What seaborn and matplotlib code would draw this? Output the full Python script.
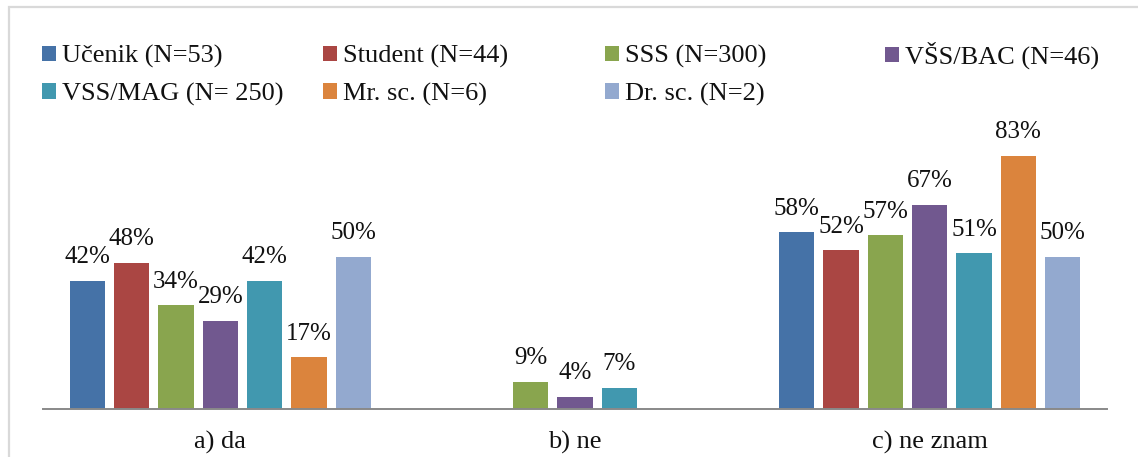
import matplotlib
matplotlib.use("Agg")
import matplotlib.pyplot as plt
from matplotlib.patches import Patch, Rectangle
import seaborn as sns
import pandas as pd

# Survey answers by education level (percent of respondents)
categories = ["a) da", "b) ne", "c) ne znam"]
groups = ["Učenik (N=53)", "Student (N=44)", "SSS (N=300)", "VŠS/BAC (N=46)",
          "VSS/MAG (N= 250)", "Mr. sc. (N=6)", "Dr. sc. (N=2)"]
ucenik = [42, 0, 58]
student = [48, 0, 52]
sss = [34, 9, 57]
vss_bac = [29, 4, 67]
vss_mag = [42, 7, 51]
mr_sc = [17, 0, 83]
dr_sc = [50, 0, 50]
series = [ucenik, student, sss, vss_bac, vss_mag, mr_sc, dr_sc]

colors = ["#4572A7", "#AA4643", "#89A54E", "#71588F", "#4198AF", "#DB843D", "#93A9CF"]

rows = []
for g, vals in zip(groups, series):
    for c, v in zip(categories, vals):
        rows.append({"kategorija": c, "skupina": g, "postotak": v})
df = pd.DataFrame(rows)

sns.set_theme(style="white")
plt.rcParams["font.family"] = ["Liberation Serif", "DejaVu Serif"]

W, H = 1138, 457
fig = plt.figure(figsize=(W / 100, H / 100), dpi=100)
ax = fig.add_axes([43 / W, 48 / H, 1064 / W, 305 / H])

sns.barplot(data=df, x="kategorija", y="postotak", hue="skupina",
            hue_order=groups, order=categories, palette=colors, saturation=1,
            width=0.875, gap=0.21, linewidth=0, legend=False, ax=ax)

for cont, vals in zip(ax.containers, series):
    ax.bar_label(cont, labels=["" if v == 0 else f"{v}%" for v in vals],
                 padding=9, fontsize=18, color="#111111")

ax.set_xlim(-0.5, len(categories) - 0.5)
ax.set_ylim(0, 100)
ax.set_xlabel("")
ax.set_ylabel("")
ax.set_yticks([])
for side in ["top", "right", "left"]:
    ax.spines[side].set_visible(False)
ax.spines["bottom"].set_color("#898989")
ax.spines["bottom"].set_linewidth(1.4)
ax.tick_params(axis="x", length=0, pad=15.5, labelsize=19, labelcolor="#111111")

# Legend: four equally spaced columns
col_x = [42, 323, 605, 885]
col_top = [45, 45, 45, 42]
col_idx = [[0, 4], [1, 5], [2, 6], [3]]
for x, top, idxs in zip(col_x, col_top, col_idx):
    handles = [Patch(facecolor=colors[i], edgecolor="none", label=groups[i]) for i in idxs]
    fig.legend(handles=handles, loc="upper left", bbox_to_anchor=(x / W, 1 - top / H),
               frameon=False, fontsize=19, borderpad=0, borderaxespad=0,
               handlelength=0.52, handleheight=0.52, handletextpad=0.25,
               labelspacing=0.55, labelcolor="#111111")

# Chart area border
fig.patches.append(Rectangle((9 / W, -0.1), 1.2, 1.1 - 7 / H, transform=fig.transFigure,
                             fill=False, edgecolor="#D9D9D9", linewidth=1.6))

fig.savefig("out.png", dpi=100)
